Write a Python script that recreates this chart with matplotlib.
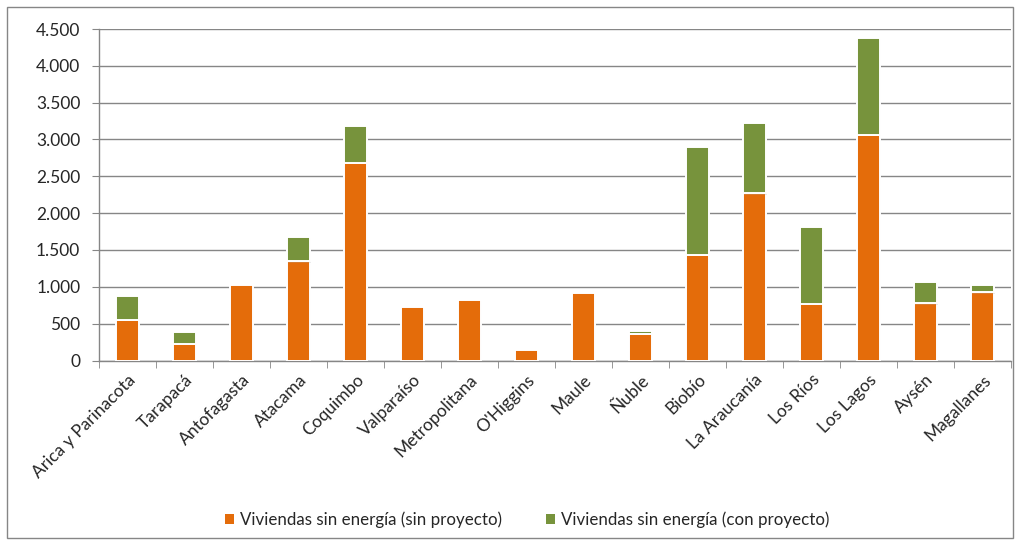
import matplotlib
matplotlib.use("Agg")
import matplotlib.pyplot as plt
from matplotlib.patches import Patch, Rectangle
from matplotlib.ticker import FuncFormatter, MultipleLocator
import matplotlib.patheffects as pe
import numpy as np

plt.rcParams['font.family'] = ['Lato', 'DejaVu Sans']

regiones = ["Arica y Parinacota", "Tarapacá", "Antofagasta", "Atacama", "Coquimbo",
            "Valparaíso", "Metropolitana", "O'Higgins", "Maule", "Ñuble", "Biobío",
            "La Araucanía", "Los Ríos", "Los Lagos", "Aysén", "Magallanes"]
sin_proyecto = [547, 226, 1023, 1345, 2676, 728, 819, 140, 918, 357, 1430,
                2268, 765, 3060, 774, 924]
con_proyecto = [326, 163, 0, 334, 502, 0, 0, 0, 0, 41, 1472,
                960, 1050, 1322, 286, 99]
serie_labels = ["Viviendas sin energía (sin proyecto)", "Viviendas sin energía (con proyecto)"]

naranja = "#E46C0A"
verde = "#77933C"
gris = "#868686"
texto = "#262626"

fig = plt.figure(figsize=(10.18, 5.43), dpi=100)
ax = fig.add_axes([99 / 1018, 1 - 360.5 / 543, (1011 - 99) / 1018, (360.5 - 29) / 543])

x = np.arange(len(regiones))
sombra = [pe.SimplePatchShadow(offset=(0.8, -0.8), shadow_rgbFace="#b0b0b0", alpha=0.25), pe.Normal()]
b1 = ax.bar(x, sin_proyecto, width=0.4, color=naranja, edgecolor="white", linewidth=1.4,
            zorder=3, path_effects=sombra)
b2 = ax.bar(x, con_proyecto, bottom=sin_proyecto, width=0.4, color=verde, edgecolor="white",
            linewidth=1.4, zorder=3, path_effects=sombra)
for rect, v in zip(b2, con_proyecto):
    if v == 0:
        rect.set_visible(False)

ax.set_xlim(-0.5, len(regiones) - 0.5)
ax.set_ylim(0, 4500)
ax.yaxis.set_major_locator(MultipleLocator(500))
ax.yaxis.set_major_formatter(FuncFormatter(lambda v, p: f"{int(v):,}".replace(",", ".")))
ax.grid(axis="y", color=gris, linewidth=1.0, zorder=0)
ax.set_axisbelow(True)

for s in ["top", "right"]:
    ax.spines[s].set_visible(False)
for s in ["left", "bottom"]:
    ax.spines[s].set_color(gris)
    ax.spines[s].set_linewidth(1.0)

ax.tick_params(axis="y", length=5, color=gris, labelsize=12.5, labelcolor=texto, pad=8.5)
ax.set_xticks(x)
ax.set_xticklabels(regiones, rotation=45, ha="right", rotation_mode="anchor",
                   fontsize=12.5, color=texto)
ax.tick_params(axis="x", which="major", length=0, pad=8)
ax.set_xticks(np.arange(-0.5, len(regiones)), minor=True)
ax.tick_params(axis="x", which="minor", length=5, color=gris)

handles = [Patch(facecolor=naranja, edgecolor="none"), Patch(facecolor=verde, edgecolor="none")]
fig.legend(handles, serie_labels, loc="center", bbox_to_anchor=(0.518, 1 - 520 / 543),
           ncol=2, frameon=False, fontsize=12.2, handlelength=0.55, handleheight=0.55,
           handletextpad=0.35, columnspacing=2.6, labelcolor=texto)

fig.patches.append(Rectangle((7 / 1018, 5 / 543), 1006 / 1018, 531 / 543,
                             transform=fig.transFigure, fill=False, edgecolor=gris,
                             linewidth=1.0))

fig.savefig("out.png", dpi=100, facecolor="white")
